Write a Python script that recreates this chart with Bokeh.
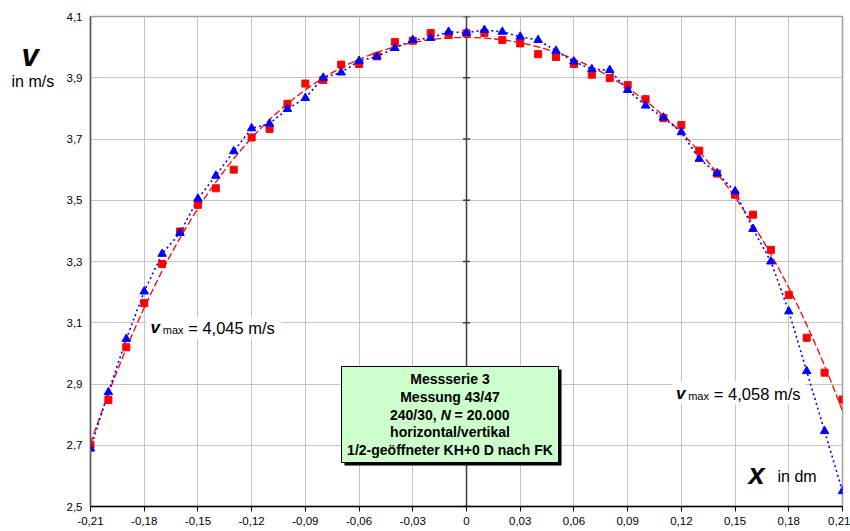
import numpy as np
from bokeh.plotting import figure
from bokeh.models import FixedTicker, Label, Range1d
from bokeh.embed import file_html
from bokeh.resources import INLINE

# ---------------- data ----------------
x_pos = [-0.21, -0.20, -0.19, -0.18, -0.17, -0.16, -0.15, -0.14, -0.13, -0.12, -0.11,
         -0.10, -0.09, -0.08, -0.07, -0.06, -0.05, -0.04, -0.03, -0.02, -0.01,
         0.00, 0.01, 0.02, 0.03, 0.04, 0.05, 0.06, 0.07, 0.08, 0.09, 0.10,
         0.11, 0.12, 0.13, 0.14, 0.15, 0.16, 0.17, 0.18, 0.19, 0.20, 0.21]

v_blue = [2.689, 2.873, 3.047, 3.202, 3.325, 3.393, 3.505, 3.580, 3.660, 3.735, 3.750,
          3.798, 3.834, 3.900, 3.917, 3.955, 3.969, 3.997, 4.023, 4.030, 4.050,
          4.047, 4.056, 4.050, 4.034, 4.023, 3.988, 3.953, 3.928, 3.925, 3.860, 3.809,
          3.770, 3.722, 3.635, 3.588, 3.529, 3.406, 3.300, 3.137, 2.942, 2.746, 2.550]

v_red = [2.702, 2.848, 3.020, 3.164, 3.292, 3.398, 3.485, 3.539, 3.600, 3.705, 3.733,
         3.815, 3.881, 3.893, 3.943, 3.945, 3.970, 4.017, 4.021, 4.046, 4.040,
         4.045, 4.046, 4.023, 4.012, 3.977, 3.968, 3.945, 3.910, 3.899, 3.876, 3.830,
         3.768, 3.746, 3.662, 3.587, 3.518, 3.453, 3.338, 3.191, 3.051, 2.937, 2.849]

x_ticks = [-0.21, -0.18, -0.15, -0.12, -0.09, -0.06, -0.03, 0.0, 0.03, 0.06, 0.09, 0.12, 0.15, 0.18, 0.21]
x_tick_labels = ["-0,21", "-0,18", "-0,15", "-0,12", "-0,09", "-0,06", "-0,03", "0",
                 "0,03", "0,06", "0,09", "0,12", "0,15", "0,18", "0,21"]
y_ticks = [2.5, 2.7, 2.9, 3.1, 3.3, 3.5, 3.7, 3.9, 4.1]
y_tick_labels = ["2,5", "2,7", "2,9", "3,1", "3,3", "3,5", "3,7", "3,9", "4,1"]

vmax_left = "= 4,045 m/s"
vmax_right = "= 4,058 m/s"
info_lines = ["Messserie 3", "Messung 43/47", "240/30, N = 20.000",
              "horizontal/vertikal", "1/2-geöffneter KH+0 D nach FK"]

# ---------------- layout ----------------
W, H = 850, 531
FL, FR, FT, FB = 90, 842, 16, 506
X0, X1, Y0, Y1 = -0.21, 0.21, 2.5, 4.1
FONT = "Liberation Sans"
NB = "\u00a0"


def dx(px):
    return X0 + (px - FL) / (FR - FL) * (X1 - X0)


def dy(py):
    return Y1 - (py - FT) / (FB - FT) * (Y1 - Y0)


p = figure(width=W, height=H, output_backend="svg", toolbar_location=None,
           x_range=Range1d(X0, X1), y_range=Range1d(Y0, Y1),
           min_border_left=FL, min_border_right=W - FR,
           min_border_top=FT, min_border_bottom=H - FB)
p.background_fill_color = "white"
p.border_fill_color = "white"
p.outline_line_color = "#a0a0a0"
p.outline_line_width = 1.5

# axes
xa = p.xaxis[0]
xa.ticker = FixedTicker(ticks=x_ticks)
xa.major_label_overrides = {t: l for t, l in zip(x_ticks, x_tick_labels)}
xa.axis_line_color = "black"
xa.axis_line_width = 1.5
xa.major_tick_line_color = "black"
xa.major_tick_out = 5
xa.major_tick_in = 0
xa.minor_tick_line_color = None
xa.major_label_standoff = 5
xa.major_label_text_font = FONT
xa.major_label_text_font_size = "11.5px"
xa.major_label_text_color = "black"

ya = p.yaxis[0]
ya.ticker = FixedTicker(ticks=y_ticks)
ya.major_label_overrides = {t: l for t, l in zip(y_ticks, y_tick_labels)}
ya.axis_line_color = "#555555"
ya.axis_line_width = 1.5
ya.major_tick_line_color = None
ya.major_tick_out = 0
ya.major_tick_in = 0
ya.minor_tick_line_color = None
ya.major_label_standoff = 8
ya.major_label_text_font = FONT
ya.major_label_text_font_size = "11.5px"
ya.major_label_text_color = "black"

p.xgrid.ticker = FixedTicker(ticks=x_ticks)
p.ygrid.ticker = FixedTicker(ticks=y_ticks)
p.grid.grid_line_color = "#c4c4c4"
p.grid.grid_line_width = 1

# white backgrounds of the v_max labels
p.quad(left=[dx(146), dx(671)], right=[dx(281), dx(805)],
       top=[dy(317), dy(381)], bottom=[dy(338), dy(404)],
       fill_color="white", line_color=None)

# central vertical axis at x = 0 with tick marks
p.segment(x0=[0], y0=[Y0], x1=[0], y1=[Y1], line_color="#404040", line_width=1.5)
p.scatter(x=[0] * len(y_ticks), y=y_ticks, marker="dash", size=7,
          line_color="#404040", line_width=1.5)

# red trendline (polynomial fit of the red points)
coef = np.polyfit(np.array(x_pos), np.array(v_red), 4)
xs = np.linspace(X0, X1, 300)
p.line(xs, np.polyval(coef, xs), line_color="#ff0000", line_width=1.3, line_dash="7 3")

# blue dotted line through the triangles
p.line(x_pos, v_blue, line_color="#0000ff", line_width=1.6, line_dash="2 3")

p.scatter(x_pos, v_red, marker="square", size=7, fill_color="#ff0000", line_color="#ff0000")
p.scatter(x_pos, v_blue, marker="triangle", size=8.5, fill_color="#0000ff", line_color="#0000ff")

# info box with shadow
sh = 3
p.quad(left=[dx(341 + sh)], right=[dx(558 + sh)], top=[dy(366 + sh)], bottom=[dy(462 + sh)],
       fill_color="black", line_color=None)
p.quad(left=[dx(341)], right=[dx(558)], top=[dy(366)], bottom=[dy(462)],
       fill_color="#ccffcc", line_color="black", line_width=1)


def lab(px, py, text, size, style="normal", align="left", baseline="alphabetic"):
    p.add_layout(Label(x=dx(px), y=dy(py), text=text, text_font=FONT,
                       text_font_size=size, text_font_style=style,
                       text_align=align, text_baseline=baseline, text_color="black"))


def slab(px, py, text, size, style="normal"):
    # label placed in the left side panel (not clipped to the frame)
    p.add_layout(Label(x=px, y=FB - py, x_units="screen", y_units="screen", text=text,
                       text_font=FONT, text_font_size=size, text_font_style=style,
                       text_align="left", text_baseline="alphabetic", text_color="black"),
                 "left")


cx = 449.5
baselines = [378.8, 396.5, 414.1, 431.8, 449.5]
for i, line in enumerate(info_lines):
    if i == 2:
        a, b = line.split("N")
        lab(389.5, baselines[i], a, "14px", "bold")
        lab(440.3, baselines[i], "N", "14px", "bold italic")
        lab(450.2, baselines[i], b.replace(" ", NB), "14px", "bold")
    else:
        lab(cx, baselines[i], line, "14px", "bold", align="center")

# axis titles
slab(-25, 55, "v", "31px", "bold italic")
slab(8, 80.5, "in m/s", "16px")
lab(748, 473, "x", "29px", "bold italic")
lab(777, 476, "in dm", "16px")

# v_max labels
lab(150, 326.5, "v", "17px", "bold italic")
lab(162.3, 329.5, "max", "11px")
lab(187.7, 327, vmax_left, "16.5px")
lab(675.5, 392.5, "v", "17px", "bold italic")
lab(687.7, 395.5, "max", "11px")
lab(713.3, 393, vmax_right, "16.5px")

open("out.html", "w").write(file_html(p, INLINE))
